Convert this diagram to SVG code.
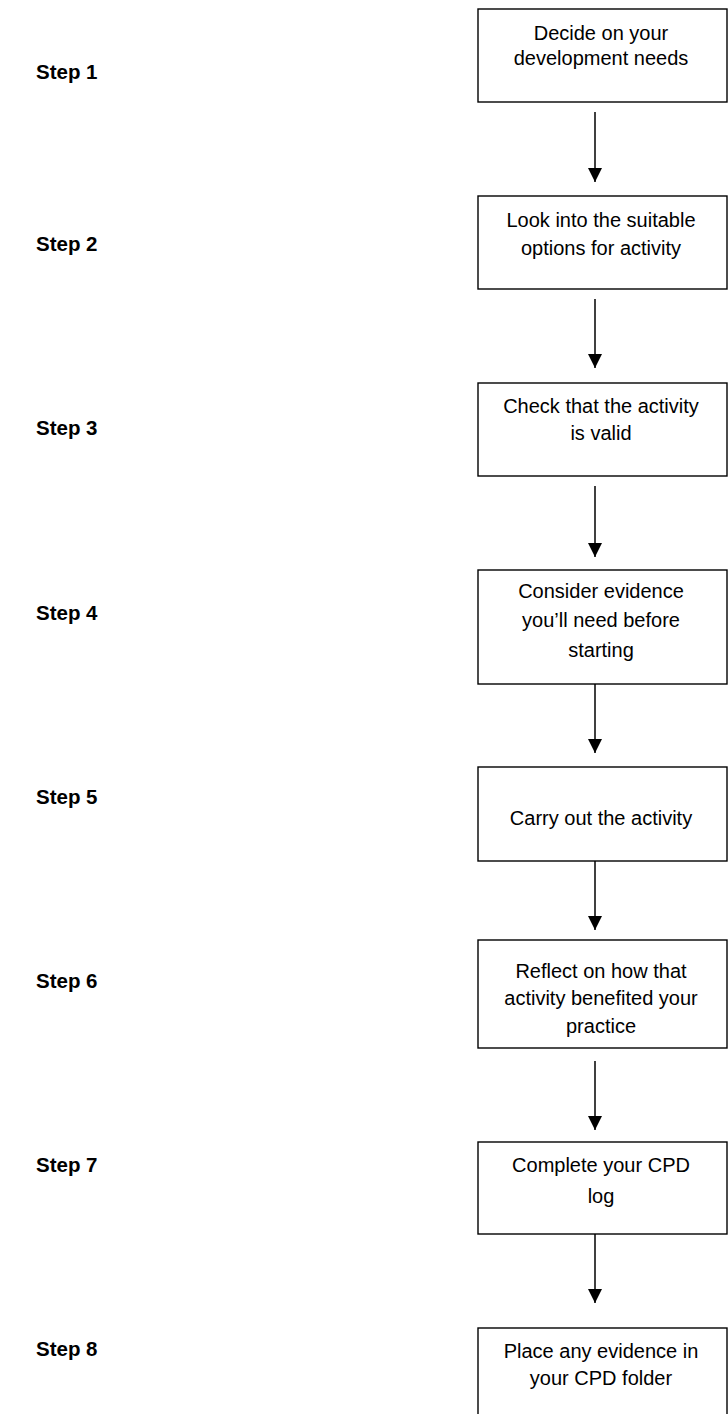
<svg xmlns="http://www.w3.org/2000/svg" width="728" height="1414" viewBox="0 0 728 1414">
<style>
.box{fill:#fff;stroke:#000;stroke-width:1.4}
.t{font-family:"Liberation Sans",Arial,sans-serif;font-size:20px;fill:#000;text-anchor:middle}
.s{font-family:"Liberation Sans",Arial,sans-serif;font-size:20.5px;font-weight:bold;fill:#000}
.c{stroke:#000;stroke-width:1.5;fill:none}
</style>
<defs>
<marker id="ah" markerWidth="14" markerHeight="14" viewBox="0 0 14 14" refX="14" refY="7" orient="auto" markerUnits="userSpaceOnUse">
<path d="M0,0 L14,7 L0,14 Z" fill="#000"/>
</marker>
</defs>
<rect width="728" height="1414" fill="#fff"/>
<g id="labels">
<text class="s" x="36" y="79">Step 1</text>
<text class="s" x="36" y="251">Step 2</text>
<text class="s" x="36" y="435">Step 3</text>
<text class="s" x="36" y="620">Step 4</text>
<text class="s" x="36" y="804">Step 5</text>
<text class="s" x="36" y="988">Step 6</text>
<text class="s" x="36" y="1172">Step 7</text>
<text class="s" x="36" y="1356">Step 8</text>
</g>
<g id="connectors">
<line class="c" x1="595" y1="112" x2="595" y2="182" marker-end="url(#ah)"/>
<line class="c" x1="595" y1="299" x2="595" y2="368" marker-end="url(#ah)"/>
<line class="c" x1="595" y1="486" x2="595" y2="557" marker-end="url(#ah)"/>
<line class="c" x1="595" y1="684" x2="595" y2="753" marker-end="url(#ah)"/>
<line class="c" x1="595" y1="861" x2="595" y2="930" marker-end="url(#ah)"/>
<line class="c" x1="595" y1="1061" x2="595" y2="1130" marker-end="url(#ah)"/>
<line class="c" x1="595" y1="1234" x2="595" y2="1303" marker-end="url(#ah)"/>
</g>
<g id="n1"><rect class="box" x="478" y="9" width="249" height="93"/>
<text class="t" x="601" y="40">Decide on your</text><text class="t" x="601" y="65">development needs</text></g>
<g id="n2"><rect class="box" x="478" y="196" width="249" height="93"/>
<text class="t" x="601" y="227">Look into the suitable</text><text class="t" x="601" y="255">options for activity</text></g>
<g id="n3"><rect class="box" x="478" y="383" width="249" height="93"/>
<text class="t" x="601" y="413">Check that the activity</text><text class="t" x="601" y="440">is valid</text></g>
<g id="n4"><rect class="box" x="478" y="570" width="249" height="114"/>
<text class="t" x="601" y="598">Consider evidence</text><text class="t" x="601" y="627">you’ll need before</text><text class="t" x="601" y="657">starting</text></g>
<g id="n5"><rect class="box" x="478" y="767" width="249" height="94"/>
<text class="t" x="601" y="825">Carry out the activity</text></g>
<g id="n6"><rect class="box" x="478" y="940" width="249" height="108"/>
<text class="t" x="601" y="978">Reflect on how that</text><text class="t" x="601" y="1005">activity benefited your</text><text class="t" x="601" y="1033">practice</text></g>
<g id="n7"><rect class="box" x="478" y="1142" width="249" height="92"/>
<text class="t" x="601" y="1172">Complete your CPD</text><text class="t" x="601" y="1203">log</text></g>
<g id="n8"><rect class="box" x="478" y="1328" width="249" height="95"/>
<text class="t" x="601" y="1358">Place any evidence in</text><text class="t" x="601" y="1385">your CPD folder</text></g>
</svg>
